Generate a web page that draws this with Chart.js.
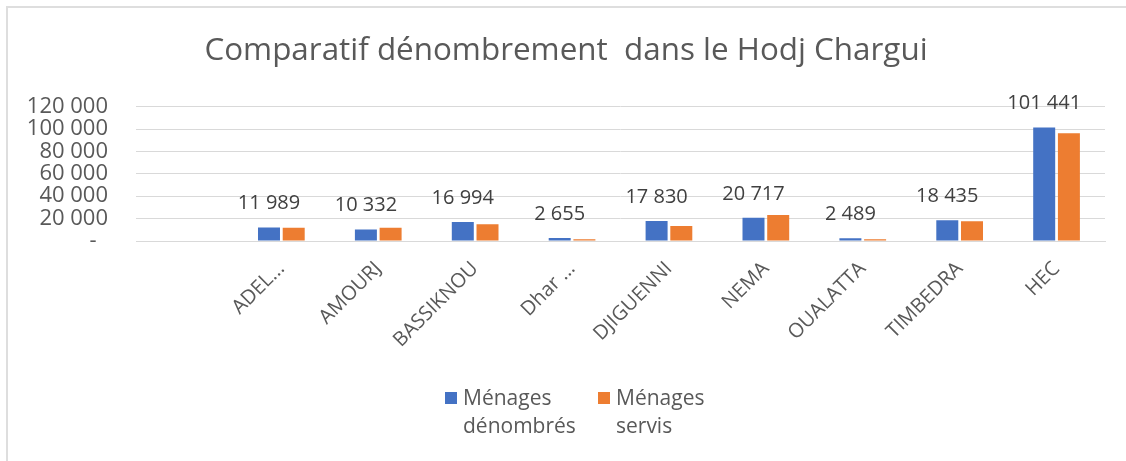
<!DOCTYPE html>
<html>
<head>
<meta charset="utf-8">
<script src="https://cdn.jsdelivr.net/npm/chart.js@4/dist/chart.umd.min.js"></script>
<style>
  html, body { margin: 0; padding: 0; background: #ffffff; }
  #wrap { position: relative; width: 1126px; height: 461px; overflow: hidden; }
  #frame { position: absolute; left: 6px; top: 6px; width: 1140px; height: 480px; border-left: 2px solid #dedede; border-top: 2px solid #dedede; box-sizing: border-box; }
  canvas { position: absolute; left: 0; top: 0; }
  #legend { position: absolute; top: 383px; left: 0; width: 1126px; height: 60px; font-family: 'Open Sans', 'Liberation Sans', sans-serif; font-size: 21px; line-height: 28px; color: #595959; }
  .item { position: absolute; top: 0; }
  .box { position: absolute; top: 9px; left: 0; width: 12px; height: 12px; }
  .txt { position: absolute; top: 0; left: 18px; white-space: nowrap; }
</style>
</head>
<body>
<div id="wrap">
  <div id="frame"></div>
  <canvas id="c" width="1126" height="461"></canvas>
  <div id="legend"></div>
</div>
<script>
const categories = ['', 'ADEL...', 'AMOURJ', 'BASSIKNOU', 'Dhar ...', 'DJIGUENNI', 'NEMA', 'OUALATTA', 'TIMBEDRA', 'HEC'];
const menagesDenombres = [null, 11989, 10332, 16994, 2655, 17830, 20717, 2489, 18435, 101441];
const menagesServis = [null, 11800, 11900, 14900, 1500, 13400, 23200, 1500, 17600, 96200];
const seriesNames = [['Ménages', 'dénombrés'], ['Ménages', 'servis']];
const seriesColors = ['#4472C4', '#ED7D31'];
const yTicks = [0, 20000, 40000, 60000, 80000, 100000, 120000];
const titleText = 'Comparatif dénombrement  dans le Hodj Chargui';

const FONT = "'Open Sans', 'Liberation Sans', sans-serif";
const GREY = '#595959';

function fmt(v) {
  return String(Math.round(v)).replace(/\B(?=(\d{3})+(?!\d))/g, ' ');
}

// HTML legend (multi-line labels)
const legendEl = document.getElementById('legend');
const legendX = [445, 598];
seriesNames.forEach((lines, i) => {
  const item = document.createElement('div');
  item.className = 'item';
  item.style.left = legendX[i] + 'px';
  const box = document.createElement('div');
  box.className = 'box';
  box.style.background = seriesColors[i];
  const txt = document.createElement('div');
  txt.className = 'txt';
  txt.innerHTML = lines.join('<br>');
  item.appendChild(box);
  item.appendChild(txt);
  legendEl.appendChild(item);
});

const valueLabels = {
  id: 'valueLabels',
  afterDatasetsDraw(chart) {
    const ctx = chart.ctx;
    const meta = chart.getDatasetMeta(0);
    ctx.save();
    ctx.font = '20px ' + FONT;
    ctx.fillStyle = '#404040';
    ctx.textAlign = 'center';
    ctx.textBaseline = 'middle';
    meta.data.forEach((bar, i) => {
      const v = menagesDenombres[i];
      if (v == null) return;
      ctx.fillText(fmt(v), bar.x, bar.y - 24);
    });
    ctx.restore();
  }
};

new Chart(document.getElementById('c'), {
  type: 'bar',
  data: {
    labels: categories,
    datasets: [
      { label: 'Ménages dénombrés', data: menagesDenombres, backgroundColor: seriesColors[0], categoryPercentage: 0.51, barPercentage: 0.89 },
      { label: 'Ménages servis', data: menagesServis, backgroundColor: seriesColors[1], categoryPercentage: 0.51, barPercentage: 0.89 }
    ]
  },
  options: {
    responsive: false,
    animation: false,
    layout: { padding: { left: 27, right: 21, top: 0, bottom: 8 } },
    plugins: {
      title: {
        display: true,
        text: titleText,
        color: GREY,
        font: { family: FONT, size: 31.4, weight: 'normal', lineHeight: 1.2 },
        padding: { top: 32, bottom: 37 }
      },
      legend: { display: false },
      tooltip: { enabled: false }
    },
    scales: {
      x: {
        grid: { display: false, drawTicks: false },
        border: { display: true, color: '#d9d9d9', width: 1 },
        ticks: {
          color: GREY,
          font: { family: FONT, size: 20 },
          minRotation: 45,
          maxRotation: 45,
          autoSkip: false,
          padding: 16
        },
        afterFit(s) { s.height = s.chart.height - 241 - 8; }
      },
      y: {
        min: 0,
        max: 120000,
        afterBuildTicks(s) { s.ticks = yTicks.map(v => ({ value: v })); },
        grid: { color: '#d9d9d9', lineWidth: 1, drawTicks: false },
        border: { display: false },
        ticks: {
          color: GREY,
          font: { family: FONT, size: 22 },
          padding: 28,
          autoSkip: false,
          callback: v => v === 0 ? '-  ' : fmt(v)
        },
        afterFit(s) { s.width = 109; }
      }
    }
  },
  plugins: [valueLabels]
});
</script>
</body>
</html>
